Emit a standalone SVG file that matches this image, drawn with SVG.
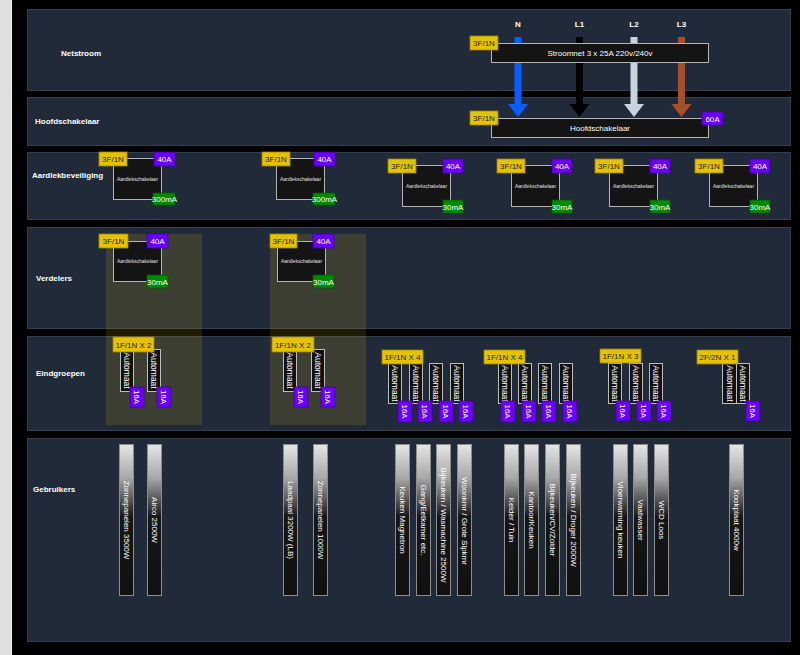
<svg xmlns="http://www.w3.org/2000/svg" width="800" height="655" viewBox="0 0 800 655">
<defs>
<linearGradient id="ug" x1="0" y1="0" x2="0" y2="1">
<stop offset="0" stop-color="#e6e6e6"/>
<stop offset="0.22" stop-color="#a8a8a8"/>
<stop offset="0.48" stop-color="#161616"/>
<stop offset="1" stop-color="#111"/>
</linearGradient>
<style>
text{font-family:"Liberation Sans",Arial,sans-serif}
.panel{fill:#212a39;stroke:#353e4e;stroke-width:1}
.row{font-size:8px;font-weight:bold;fill:#fff}
.ph{font-size:8px;font-weight:bold;fill:#fff;text-anchor:middle}
.box{fill:#141414;stroke:#b4b4b4;stroke-width:1}
.yl{fill:#e5c200;stroke:#9c8400;stroke-width:0.8}
.pl{fill:#6a00f6;stroke:#4400a8;stroke-width:0.8}
.gl{fill:#008a00;stroke:#005800;stroke-width:0.8}
.lt{font-size:8px;fill:#1a1a1a;text-anchor:middle}
.lw{font-size:8px;fill:#fff;text-anchor:middle}
.tiny{font-size:5px;fill:#e0e0e0;text-anchor:middle}
.hl{fill:rgba(255,220,0,0.12)}
.aut{fill:#111;stroke:#bdbdbd;stroke-width:1}
.at{font-size:8.5px;fill:#fff;text-anchor:middle}
.usr{fill:url(#ug);stroke:#8e8e8e;stroke-width:1}
.ut{font-size:8px;fill:#fff;text-anchor:middle}
</style>
</defs>
<rect x="0" y="0" width="800" height="655" fill="#000"/>
<rect x="0" y="0" width="11" height="655" fill="#e0e0e0"/>
<rect x="11" y="0" width="1" height="655" fill="#f2f2f2"/>

<g id="rows">
<rect class="panel" x="27.5" y="9.5" width="763" height="81"/>
<rect class="panel" x="27.5" y="97.5" width="763" height="48"/>
<rect class="panel" x="27.5" y="152.5" width="763" height="67"/>
<rect class="panel" x="27.5" y="227.5" width="763" height="101"/>
<rect class="panel" x="27.5" y="336.5" width="763" height="94"/>
<rect class="panel" x="27.5" y="438.5" width="763" height="203"/>
<text class="row" x="61" y="56">Netstroom</text>
<text class="row" x="35" y="124">Hoofdschakelaar</text>
<text class="row" x="32" y="178">Aardlekbeveiliging</text>
<text class="row" x="36" y="281">Verdelers</text>
<text class="row" x="36" y="376">Eindgroepen</text>
<text class="row" x="33" y="492">Gebruikers</text>
</g>

<g id="highlights">
<rect class="hl" x="106" y="234" width="96" height="191"/>
<rect class="hl" x="270" y="234" width="96" height="191"/>
</g>

<g id="phases">
<text class="ph" x="518" y="27">N</text>
<text class="ph" x="579.5" y="27">L1</text>
<text class="ph" x="634" y="27">L2</text>
<text class="ph" x="681.5" y="27">L3</text>
</g>

<g id="connectors">
<polygon fill="#0b5cff" points="514.5,37 521.5,37 521.5,104 528,104 518,117 508,104 514.5,104"/>
<polygon fill="#000000" points="576,37 583,37 583,104 589.5,104 579.5,117 569.5,104 576,104"/>
<polygon fill="#c9d3de" points="630.5,37 637.5,37 637.5,104 644,104 634,117 624,104 630.5,104"/>
<polygon fill="#a4502b" points="678,37 685,37 685,104 691.5,104 681.5,117 671.5,104 678,104"/>
</g>

<g id="stroomnet">
<rect class="box" x="491.5" y="43.5" width="217" height="19"/>
<text class="lw" x="600" y="56">Stroomnet 3 x 25A 220v/240v</text>
<rect class="yl" x="470" y="36" width="28" height="14"/>
<text class="lt" x="484" y="46">3F/1N</text>
</g>

<g id="hoofdschakelaar">
<rect class="box" x="491.5" y="118.5" width="217" height="19"/>
<text class="lw" x="600" y="131">Hoofdschakelaar</text>
<rect class="yl" x="470" y="111" width="28" height="14"/>
<text class="lt" x="484" y="121">3F/1N</text>
<rect class="pl" x="702" y="112" width="21" height="13"/>
<text class="lw" x="712.5" y="121.5">60A</text>
</g>

<g id="aardlek1" transform="translate(113,158)">
<rect class="box" x="0.5" y="0.5" width="48" height="41"/>
<text class="tiny" x="24.5" y="23">Aardlekschakelaar</text>
<rect class="yl" x="-14" y="-6" width="28" height="14"/><text class="lt" x="0" y="4">3F/1N</text>
<rect class="pl" x="41" y="-6" width="21" height="14"/><text class="lw" x="51.5" y="4">40A</text>
<rect class="gl" x="40" y="35" width="22" height="12"/><text class="lw" x="51.5" y="44">300mA</text>
</g>
<g id="aardlek2" transform="translate(276,158)">
<rect class="box" x="0.5" y="0.5" width="48" height="41"/>
<text class="tiny" x="24.5" y="23">Aardlekschakelaar</text>
<rect class="yl" x="-14" y="-6" width="28" height="14"/><text class="lt" x="0" y="4">3F/1N</text>
<rect class="pl" x="38" y="-6" width="21" height="14"/><text class="lw" x="48.5" y="4">40A</text>
<rect class="gl" x="37" y="35" width="22" height="12"/><text class="lw" x="48.5" y="44">300mA</text>
</g>
<g id="aardlek3" transform="translate(402,165)">
<rect class="box" x="0.5" y="0.5" width="48" height="41"/>
<text class="tiny" x="24.5" y="23">Aardlekschakelaar</text>
<rect class="yl" x="-14" y="-6" width="28" height="14"/><text class="lt" x="0" y="4">3F/1N</text>
<rect class="pl" x="41" y="-6" width="20" height="14"/><text class="lw" x="51" y="4">40A</text>
<rect class="gl" x="41" y="35" width="20" height="13"/><text class="lw" x="51" y="44.5">30mA</text>
</g>
<g id="aardlek4" transform="translate(511,165)">
<rect class="box" x="0.5" y="0.5" width="48" height="41"/>
<text class="tiny" x="24.5" y="23">Aardlekschakelaar</text>
<rect class="yl" x="-14" y="-6" width="28" height="14"/><text class="lt" x="0" y="4">3F/1N</text>
<rect class="pl" x="41" y="-6" width="20" height="14"/><text class="lw" x="51" y="4">40A</text>
<rect class="gl" x="41" y="35" width="20" height="13"/><text class="lw" x="51" y="44.5">30mA</text>
</g>
<g id="aardlek5" transform="translate(609,165)">
<rect class="box" x="0.5" y="0.5" width="48" height="41"/>
<text class="tiny" x="24.5" y="23">Aardlekschakelaar</text>
<rect class="yl" x="-14" y="-6" width="28" height="14"/><text class="lt" x="0" y="4">3F/1N</text>
<rect class="pl" x="41" y="-6" width="20" height="14"/><text class="lw" x="51" y="4">40A</text>
<rect class="gl" x="41" y="35" width="20" height="13"/><text class="lw" x="51" y="44.5">30mA</text>
</g>
<g id="aardlek6" transform="translate(709,165)">
<rect class="box" x="0.5" y="0.5" width="48" height="41"/>
<text class="tiny" x="24.5" y="23">Aardlekschakelaar</text>
<rect class="yl" x="-14" y="-6" width="28" height="14"/><text class="lt" x="0" y="4">3F/1N</text>
<rect class="pl" x="41" y="-6" width="20" height="14"/><text class="lw" x="51" y="4">40A</text>
<rect class="gl" x="41" y="35" width="20" height="13"/><text class="lw" x="51" y="44.5">30mA</text>
</g>

<g id="verdeler1" transform="translate(113,241)">
<rect class="box" x="0.5" y="0.5" width="48" height="40"/>
<text class="tiny" x="24.5" y="22">Aardlekschakelaar</text>
<rect class="yl" x="-14" y="-7" width="29" height="14"/><text class="lt" x="0.5" y="3">3F/1N</text>
<rect class="pl" x="34" y="-7" width="21" height="14"/><text class="lw" x="44.5" y="3">40A</text>
<rect class="gl" x="34" y="34" width="21" height="13"/><text class="lw" x="44.5" y="43.5">30mA</text>
</g>
<g id="verdeler2" transform="translate(277,241)">
<rect class="box" x="0.5" y="0.5" width="48" height="40"/>
<text class="tiny" x="24.5" y="22">Aardlekschakelaar</text>
<rect class="yl" x="-7" y="-7" width="27" height="14"/><text class="lt" x="6.5" y="3">3F/1N</text>
<rect class="pl" x="36" y="-7" width="21" height="14"/><text class="lw" x="46.5" y="3">40A</text>
<rect class="gl" x="36" y="34" width="21" height="13"/><text class="lw" x="46.5" y="43.5">30mA</text>
</g>

<g id="eind1">
<rect class="aut" x="120.5" y="349.5" width="13" height="42"/><text class="at" transform="translate(127,370.5) rotate(90)" dy="3">Automaat</text>
<rect class="aut" x="147.5" y="349.5" width="13" height="42"/><text class="at" transform="translate(154,370.5) rotate(90)" dy="3">Automaat</text>
<rect class="pl" x="130" y="387" width="14" height="20"/><text class="lw" transform="translate(137,397) rotate(90)" dy="2.9">16A</text>
<rect class="pl" x="157" y="387" width="14" height="20"/><text class="lw" transform="translate(164,397) rotate(90)" dy="2.9">16A</text>
<rect class="yl" x="113" y="337" width="41" height="15"/><text class="lt" x="133.5" y="347.5">1F/1N X 2</text>
</g>
<g id="eind2">
<rect class="aut" x="283.5" y="349.5" width="13" height="42"/><text class="at" transform="translate(290,370.5) rotate(90)" dy="3">Automaat</text>
<rect class="aut" x="311.5" y="349.5" width="13" height="42"/><text class="at" transform="translate(318,370.5) rotate(90)" dy="3">Automaat</text>
<rect class="pl" x="294" y="387" width="14" height="20"/><text class="lw" transform="translate(301,397) rotate(90)" dy="2.9">16A</text>
<rect class="pl" x="321" y="387" width="14" height="20"/><text class="lw" transform="translate(328,397) rotate(90)" dy="2.9">16A</text>
<rect class="yl" x="272" y="337" width="42" height="15"/><text class="lt" x="293" y="347.5">1F/1N X 2</text>
</g>
<g id="eind3">
<rect class="aut" x="388.5" y="363.5" width="13" height="40"/><text class="at" transform="translate(395,383.5) rotate(90)" dy="3">Automaat</text>
<rect class="aut" x="409.5" y="363.5" width="13" height="40"/><text class="at" transform="translate(416,383.5) rotate(90)" dy="3">Automaat</text>
<rect class="aut" x="429.5" y="363.5" width="13" height="40"/><text class="at" transform="translate(436,383.5) rotate(90)" dy="3">Automaat</text>
<rect class="aut" x="450.5" y="363.5" width="13" height="40"/><text class="at" transform="translate(457,383.5) rotate(90)" dy="3">Automaat</text>
<rect class="pl" x="398" y="401" width="14" height="21"/><text class="lw" transform="translate(405,411.5) rotate(90)" dy="2.9">16A</text>
<rect class="pl" x="418" y="401" width="14" height="21"/><text class="lw" transform="translate(425,411.5) rotate(90)" dy="2.9">16A</text>
<rect class="pl" x="439" y="401" width="14" height="21"/><text class="lw" transform="translate(446,411.5) rotate(90)" dy="2.9">16A</text>
<rect class="pl" x="459" y="401" width="14" height="21"/><text class="lw" transform="translate(466,411.5) rotate(90)" dy="2.9">16A</text>
<rect class="yl" x="382" y="350" width="41" height="14"/><text class="lt" x="402.5" y="360">1F/1N X 4</text>
</g>
<g id="eind4">
<rect class="aut" x="498.5" y="363.5" width="13" height="40"/><text class="at" transform="translate(505,383.5) rotate(90)" dy="3">Automaat</text>
<rect class="aut" x="518.5" y="363.5" width="13" height="40"/><text class="at" transform="translate(525,383.5) rotate(90)" dy="3">Automaat</text>
<rect class="aut" x="538.5" y="363.5" width="13" height="40"/><text class="at" transform="translate(545,383.5) rotate(90)" dy="3">Automaat</text>
<rect class="aut" x="559.5" y="363.5" width="13" height="40"/><text class="at" transform="translate(566,383.5) rotate(90)" dy="3">Automaat</text>
<rect class="pl" x="501" y="401" width="14" height="21"/><text class="lw" transform="translate(508,411.5) rotate(90)" dy="2.9">16A</text>
<rect class="pl" x="522" y="401" width="14" height="21"/><text class="lw" transform="translate(529,411.5) rotate(90)" dy="2.9">16A</text>
<rect class="pl" x="542" y="401" width="14" height="21"/><text class="lw" transform="translate(549,411.5) rotate(90)" dy="2.9">16A</text>
<rect class="pl" x="563" y="401" width="14" height="21"/><text class="lw" transform="translate(570,411.5) rotate(90)" dy="2.9">16A</text>
<rect class="yl" x="484" y="350" width="41" height="14"/><text class="lt" x="504.5" y="360">1F/1N X 4</text>
</g>
<g id="eind5">
<rect class="aut" x="608.5" y="363.5" width="13" height="40"/><text class="at" transform="translate(615,383.5) rotate(90)" dy="3">Automaat</text>
<rect class="aut" x="629.5" y="363.5" width="13" height="40"/><text class="at" transform="translate(636,383.5) rotate(90)" dy="3">Automaat</text>
<rect class="aut" x="649.5" y="363.5" width="13" height="40"/><text class="at" transform="translate(656,383.5) rotate(90)" dy="3">Automaat</text>
<rect class="pl" x="616" y="401" width="14" height="20"/><text class="lw" transform="translate(623,411) rotate(90)" dy="2.9">16A</text>
<rect class="pl" x="637" y="401" width="14" height="20"/><text class="lw" transform="translate(644,411) rotate(90)" dy="2.9">16A</text>
<rect class="pl" x="657" y="401" width="14" height="20"/><text class="lw" transform="translate(664,411) rotate(90)" dy="2.9">16A</text>
<rect class="yl" x="600" y="349" width="41" height="14"/><text class="lt" x="620.5" y="359">1F/1N X 3</text>
</g>
<g id="eind6">
<rect class="aut" x="722.5" y="363.5" width="14" height="40"/><text class="at" transform="translate(729.5,383.5) rotate(90)" dy="3">Automaat</text>
<rect class="aut" x="736.5" y="363.5" width="13" height="40"/><text class="at" transform="translate(743,383.5) rotate(90)" dy="3">Automaat</text>
<rect class="pl" x="746" y="401" width="14" height="20"/><text class="lw" transform="translate(753,411) rotate(90)" dy="2.9">16A</text>
<rect class="yl" x="697" y="350" width="41" height="14"/><text class="lt" x="717.5" y="360">2F/2N X 1</text>
</g>

<g id="gebruikers">
<g id="u1"><rect class="usr" x="119.5" y="444.5" width="14" height="151"/><text class="ut" transform="translate(126.5,520) rotate(90)" dy="2.9">Zonnepanelen 3500W</text></g>
<g id="u2"><rect class="usr" x="147.5" y="444.5" width="14" height="151"/><text class="ut" transform="translate(154.5,520) rotate(90)" dy="2.9">Airco 2500W</text></g>
<g id="u3"><rect class="usr" x="283.5" y="444.5" width="14" height="151"/><text class="ut" transform="translate(290.5,520) rotate(90)" dy="2.9">Laadpaal 3200W (LB)</text></g>
<g id="u4"><rect class="usr" x="313.5" y="444.5" width="14" height="151"/><text class="ut" transform="translate(320.5,520) rotate(90)" dy="2.9">Zonnepanelen 1000W</text></g>
<g id="u5"><rect class="usr" x="395.5" y="444.5" width="14" height="151"/><text class="ut" transform="translate(402.5,520) rotate(90)" dy="2.9">Keuken Magnetron</text></g>
<g id="u6"><rect class="usr" x="416.5" y="444.5" width="14" height="151"/><text class="ut" transform="translate(423.5,520) rotate(90)" dy="2.9">Gang/Eetkamer etc.</text></g>
<g id="u7"><rect class="usr" x="436.5" y="444.5" width="14" height="151"/><text class="ut" transform="translate(443.5,525) rotate(90)" dy="2.9">Bijkeuken / Wasmachine 2500W</text></g>
<g id="u8"><rect class="usr" x="457.5" y="444.5" width="14" height="151"/><text class="ut" transform="translate(464.5,521) rotate(90)" dy="2.9">Woonkmr / Grote Slpkmr</text></g>
<g id="u9"><rect class="usr" x="504.5" y="444.5" width="14" height="151"/><text class="ut" transform="translate(511.5,520) rotate(90)" dy="2.9">Kelder / Tuin</text></g>
<g id="u10"><rect class="usr" x="524.5" y="444.5" width="14" height="151"/><text class="ut" transform="translate(531.5,520) rotate(90)" dy="2.9">Kantoor/Keuken</text></g>
<g id="u11"><rect class="usr" x="545.5" y="444.5" width="14" height="151"/><text class="ut" transform="translate(552.5,520) rotate(90)" dy="2.9">Bijkeuken/CV/Zolder</text></g>
<g id="u12"><rect class="usr" x="566.5" y="444.5" width="14" height="151"/><text class="ut" transform="translate(573.5,520) rotate(90)" dy="2.9">Bijkeuken / Droger 2000W</text></g>
<g id="u13"><rect class="usr" x="613.5" y="444.5" width="14" height="151"/><text class="ut" transform="translate(620.5,520) rotate(90)" dy="2.9">Vloerwarming keuken</text></g>
<g id="u14"><rect class="usr" x="633.5" y="444.5" width="14" height="151"/><text class="ut" transform="translate(640.5,520) rotate(90)" dy="2.9">Vaatwasser</text></g>
<g id="u15"><rect class="usr" x="654.5" y="444.5" width="14" height="151"/><text class="ut" transform="translate(661.5,520) rotate(90)" dy="2.9">WCD Loos</text></g>
<g id="u16"><rect class="usr" x="729.5" y="444.5" width="14" height="151"/><text class="ut" transform="translate(736.5,520) rotate(90)" dy="2.9">Kookplaat 4000w</text></g>
</g>
</svg>
